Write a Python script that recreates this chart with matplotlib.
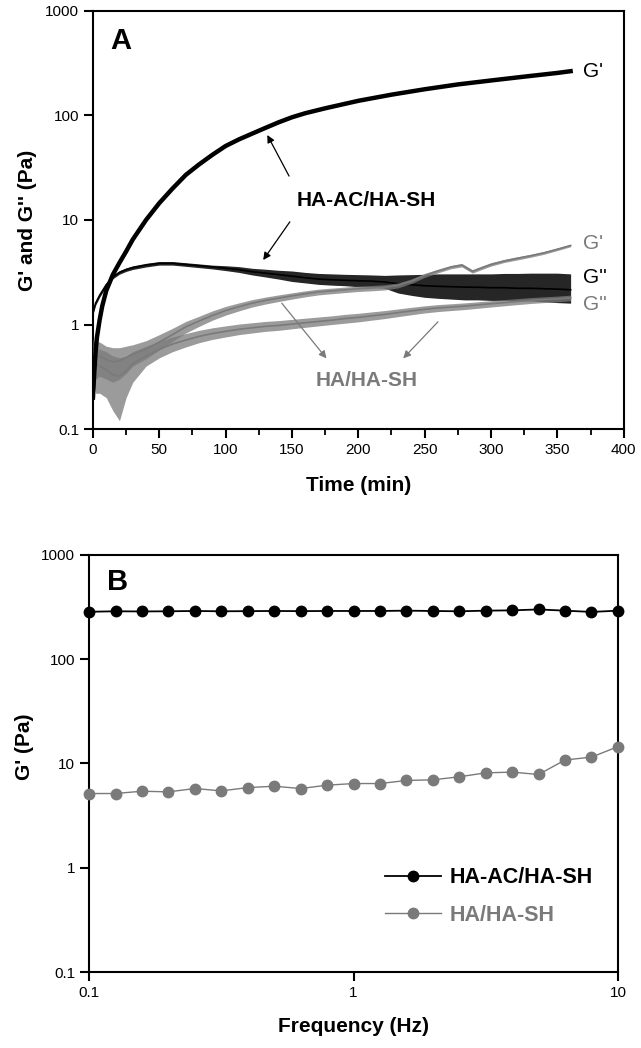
## Rheology of HA-AC/HA-SH and HA/HA-SH gels
## A: gelation kinetics (G', G'' vs time), B: frequency sweep (G' vs frequency)
import matplotlib
matplotlib.use("Agg")
import matplotlib.pyplot as plt

plt.rcParams['font.family'] = ['Liberation Sans', 'DejaVu Sans']

GRAY = '#7a7a7a'

# ---- Panel A data ----
# HA-AC/HA-SH, G' (smooth curve)
t_ac_g1 = [0, 1, 2, 3, 5, 7, 10, 15, 20, 25, 30, 40, 50, 60, 70, 80, 90, 100,
           110, 120, 130, 140, 150, 160, 175, 200, 225, 250, 275, 300, 325, 350, 360]
ac_g1 = [0.2, 0.35, 0.55, 0.75, 1.1, 1.5, 2.1, 3.0, 3.9, 5.0, 6.5, 10, 14.5, 20, 27, 34, 42, 51,
         59, 67, 76, 86, 96, 105, 117, 138, 158, 178, 198, 216, 235, 255, 265]

# HA-AC/HA-SH, G'' (noisy: middle, lower and upper edge of the trace)
t_ac_g2 = [0, 2, 5, 10, 15, 20, 25, 30, 40, 50, 60, 70, 80, 90, 100, 110, 120, 130, 140,
           150, 160, 170, 180, 190, 200, 210, 220, 230, 240, 250, 260, 270, 280, 290,
           300, 310, 320, 330, 340, 350, 360]
ac_g2 = [1.3, 1.6, 1.9, 2.4, 2.85, 3.15, 3.35, 3.5, 3.7, 3.85, 3.85, 3.75, 3.65, 3.55, 3.45,
         3.35, 3.2, 3.1, 3.0, 2.9, 2.8, 2.72, 2.68, 2.65, 2.62, 2.6, 2.55, 2.45, 2.4, 2.35,
         2.32, 2.3, 2.28, 2.27, 2.25, 2.25, 2.22, 2.22, 2.2, 2.18, 2.15]
ac_g2_lo = [1.24, 1.53, 1.82, 2.3, 2.74, 3.03, 3.22, 3.36, 3.55, 3.7, 3.7, 3.6, 3.5, 3.4,
            3.28, 3.15, 2.98, 2.85, 2.72, 2.58, 2.5, 2.42, 2.38, 2.35, 2.3, 2.28, 2.22, 2.0,
            1.9, 1.82, 1.78, 1.75, 1.72, 1.72, 1.7, 1.7, 1.68, 1.68, 1.65, 1.62, 1.6]
ac_g2_hi = [1.38, 1.67, 1.98, 2.5, 2.96, 3.28, 3.48, 3.64, 3.85, 4.0, 4.0, 3.9, 3.8, 3.7,
            3.65, 3.58, 3.45, 3.38, 3.3, 3.25, 3.15, 3.08, 3.05, 3.02, 3.0, 2.98, 2.95, 2.98,
            3.0, 3.02, 3.05, 3.05, 3.05, 3.05, 3.05, 3.08, 3.08, 3.1, 3.1, 3.1, 3.05]

# HA/HA-SH, G' (noisy)
t_ha_g1 = [0, 2, 5, 10, 15, 20, 25, 30, 40, 50, 60, 70, 80, 90, 100, 110, 120, 130, 140,
           150, 160, 170, 180, 190, 200, 210, 220, 230, 240, 250, 260, 270, 278, 286,
           292, 300, 310, 320, 330, 340, 350, 360]
ha_g1 = [0.55, 0.5, 0.5, 0.46, 0.44, 0.45, 0.48, 0.52, 0.58, 0.68, 0.8, 0.95, 1.08, 1.22,
         1.36, 1.48, 1.6, 1.7, 1.79, 1.88, 1.97, 2.05, 2.1, 2.15, 2.2, 2.23, 2.27, 2.37,
         2.6, 2.95, 3.25, 3.55, 3.7, 3.22, 3.45, 3.75, 4.05, 4.3, 4.55, 4.85, 5.25, 5.7]
ha_g1_lo = [0.35, 0.3, 0.32, 0.3, 0.28, 0.3, 0.34, 0.4, 0.47, 0.57, 0.69, 0.83, 0.96, 1.1,
            1.23, 1.35, 1.47, 1.57, 1.66, 1.75, 1.84, 1.92, 1.97, 2.02, 2.07, 2.1, 2.14, 2.24,
            2.47, 2.82, 3.12, 3.42, 3.56, 3.1, 3.32, 3.62, 3.92, 4.15, 4.4, 4.7, 5.1, 5.55]
ha_g1_hi = [0.72, 0.68, 0.68, 0.62, 0.6, 0.6, 0.62, 0.64, 0.7, 0.8, 0.92, 1.07, 1.2, 1.35,
            1.49, 1.61, 1.73, 1.83, 1.92, 2.01, 2.1, 2.18, 2.23, 2.28, 2.33, 2.36, 2.4, 2.5,
            2.73, 3.08, 3.38, 3.68, 3.84, 3.35, 3.58, 3.9, 4.2, 4.45, 4.7, 5.0, 5.4, 5.85]

# HA/HA-SH, G'' (noisy)
t_ha_g2 = [0, 2, 5, 10, 15, 20, 25, 30, 40, 50, 60, 70, 80, 90, 100, 110, 120, 130, 140,
           150, 160, 170, 180, 190, 200, 210, 220, 230, 240, 250, 260, 270, 280, 290,
           300, 310, 320, 330, 340, 350, 360]
ha_g2 = [0.48, 0.42, 0.4, 0.37, 0.33, 0.32, 0.36, 0.42, 0.5, 0.58, 0.65, 0.71, 0.77, 0.82,
         0.86, 0.9, 0.93, 0.96, 0.98, 1.01, 1.04, 1.07, 1.1, 1.14, 1.17, 1.21, 1.25, 1.3,
         1.35, 1.4, 1.44, 1.47, 1.5, 1.54, 1.58, 1.62, 1.66, 1.7, 1.73, 1.76, 1.8]
ha_g2_lo = [0.3, 0.22, 0.22, 0.2, 0.15, 0.12, 0.2, 0.28, 0.4, 0.48, 0.55, 0.61, 0.67, 0.72,
            0.76, 0.8, 0.83, 0.86, 0.88, 0.91, 0.94, 0.97, 1.0, 1.03, 1.06, 1.1, 1.14, 1.19,
            1.24, 1.29, 1.33, 1.36, 1.39, 1.43, 1.47, 1.51, 1.55, 1.59, 1.62, 1.65, 1.69]
ha_g2_hi = [0.65, 0.6, 0.58, 0.55, 0.5, 0.48, 0.5, 0.55, 0.62, 0.69, 0.76, 0.82, 0.88, 0.93,
            0.97, 1.01, 1.04, 1.07, 1.09, 1.12, 1.15, 1.18, 1.21, 1.25, 1.28, 1.32, 1.36, 1.41,
            1.46, 1.51, 1.55, 1.58, 1.61, 1.65, 1.69, 1.73, 1.77, 1.81, 1.84, 1.87, 1.91]

# ---- Panel B data ----
freq = [0.1, 0.1259, 0.1585, 0.1995, 0.2512, 0.3162, 0.3981, 0.5012, 0.631, 0.7943, 1.0,
        1.259, 1.585, 1.995, 2.512, 3.162, 3.981, 5.012, 6.31, 7.943, 10.0]
g1_ac = [285, 288, 287, 288, 290, 288, 289, 290, 289, 290, 290, 290, 292, 290, 288, 292,
         294, 300, 292, 284, 292]
g1_ha = [5.15, 5.15, 5.42, 5.34, 5.75, 5.46, 5.87, 6.05, 5.75, 6.19, 6.42, 6.42, 6.87, 6.97,
         7.45, 8.13, 8.26, 7.84, 10.8, 11.5, 14.5]

y_ticks = [0.1, 1, 10, 100, 1000]
y_ticklabels = ['0.1', '1', '10', '100', '1000']
x_ticks_a = [0, 50, 100, 150, 200, 250, 300, 350, 400]
x_ticks_b = [0.1, 1, 10]
x_ticklabels_b = ['0.1', '1', '10']


def style_axes(ax):
    for s in ax.spines.values():
        s.set_linewidth(1.5)
    ax.tick_params(which='major', direction='out', length=6.5, width=1.5,
                   labelsize=11, top=False, right=False)
    ax.tick_params(which='minor', direction='out', length=4, width=1.3,
                   top=False, right=False)
    ax.set_yscale('log')
    ax.set_ylim(0.1, 1000)
    ax.set_yticks(y_ticks)
    ax.set_yticklabels(y_ticklabels)
    ax.yaxis.set_minor_locator(matplotlib.ticker.NullLocator())


fig = plt.figure(figsize=(6.41, 10.48), dpi=100)

# Panel A
ax1 = fig.add_axes([0.145, 0.5906, 0.828, 0.399])
style_axes(ax1)
ax1.fill_between(t_ac_g2, ac_g2_lo, ac_g2_hi, color='black', alpha=0.85, lw=0, zorder=2)
ax1.plot(t_ac_g2, ac_g2, color='black', lw=1.2, zorder=2)
ax1.fill_between(t_ha_g1, ha_g1_lo, ha_g1_hi, color=GRAY, alpha=0.75, lw=0, zorder=3)
ax1.plot(t_ha_g1, ha_g1, color=GRAY, lw=1.2, zorder=3)
ax1.fill_between(t_ha_g2, ha_g2_lo, ha_g2_hi, color=GRAY, alpha=0.75, lw=0, zorder=3)
ax1.plot(t_ha_g2, ha_g2, color=GRAY, lw=1.2, zorder=3)
ax1.plot(t_ac_g1, ac_g1, color='black', lw=3.2, zorder=4)
ax1.set_xlim(0, 400)
ax1.set_xticks(x_ticks_a)
ax1.set_xticks([25, 75, 125, 175, 225, 275, 325, 375], minor=True)
ax1.set_xlabel('Time (min)', fontsize=15, fontweight='bold', labelpad=14)
ax1.set_ylabel("G' and G'' (Pa)", fontsize=15, fontweight='bold', labelpad=6)
ax1.text(0.032, 0.962, 'A', transform=ax1.transAxes, fontsize=21, fontweight='bold',
         va='top', ha='left')

# curve labels
ax1.text(369, 261, "G'", fontsize=15, va='center')
ax1.text(369, 6.0, "G'", fontsize=15, va='center', color=GRAY)
ax1.text(369, 2.79, "G''", fontsize=15, va='center')
ax1.text(369, 1.54, "G''", fontsize=15, va='center', color=GRAY)

ax1.text(206, 15.5, 'HA-AC/HA-SH', fontsize=15, fontweight='bold', ha='center', va='center')
ax1.text(206, 0.294, 'HA/HA-SH', fontsize=15, fontweight='bold', ha='center', va='center',
         color=GRAY)
arr_k = dict(arrowstyle='-|>', lw=0.9, color='black', mutation_scale=11, shrinkA=0, shrinkB=0)
arr_g = dict(arrowstyle='-|>', lw=0.9, color=GRAY, mutation_scale=11, shrinkA=0, shrinkB=0)
ax1.annotate('', xy=(131.4, 65), xytext=(147.8, 26.3), arrowprops=arr_k)
ax1.annotate('', xy=(128.3, 4.14), xytext=(148.4, 9.6), arrowprops=arr_k)
ax1.annotate('', xy=(176, 0.474), xytext=(142.3, 1.6), arrowprops=arr_g)
ax1.annotate('', xy=(233.8, 0.474), xytext=(260, 1.06), arrowprops=arr_g)

# Panel B
ax2 = fig.add_axes([0.139, 0.0725, 0.825, 0.398])
style_axes(ax2)
ax2.set_xscale('log')
ax2.set_xlim(0.1, 10)
ax2.set_xticks(x_ticks_b)
ax2.set_xticklabels(x_ticklabels_b)
ax2.xaxis.set_minor_locator(matplotlib.ticker.NullLocator())
ax2.plot(freq, g1_ac, color='black', lw=1.3, marker='o', ms=7.5, clip_on=False,
         label='HA-AC/HA-SH', zorder=4)
ax2.plot(freq, g1_ha, color=GRAY, lw=1.0, marker='o', ms=7.5, clip_on=False,
         label='HA/HA-SH', zorder=4)
ax2.set_xlabel('Frequency (Hz)', fontsize=15, fontweight='bold', labelpad=12)
ax2.set_ylabel("G' (Pa)", fontsize=15, fontweight='bold')
ax2.yaxis.set_label_coords(-0.105, 0.54)
ax2.text(0.034, 0.969, 'B', transform=ax2.transAxes, fontsize=21, fontweight='bold',
         va='top', ha='left')
leg = ax2.legend(loc='lower right', bbox_to_anchor=(0.99, 0.065), frameon=False,
                 prop={'size': 15.5, 'weight': 'bold'}, handlelength=2.6, handletextpad=0.4,
                 labelspacing=0.75)
for txt, col in zip(leg.get_texts(), ['black', GRAY]):
    txt.set_color(col)

fig.savefig('out.png', dpi=100)
